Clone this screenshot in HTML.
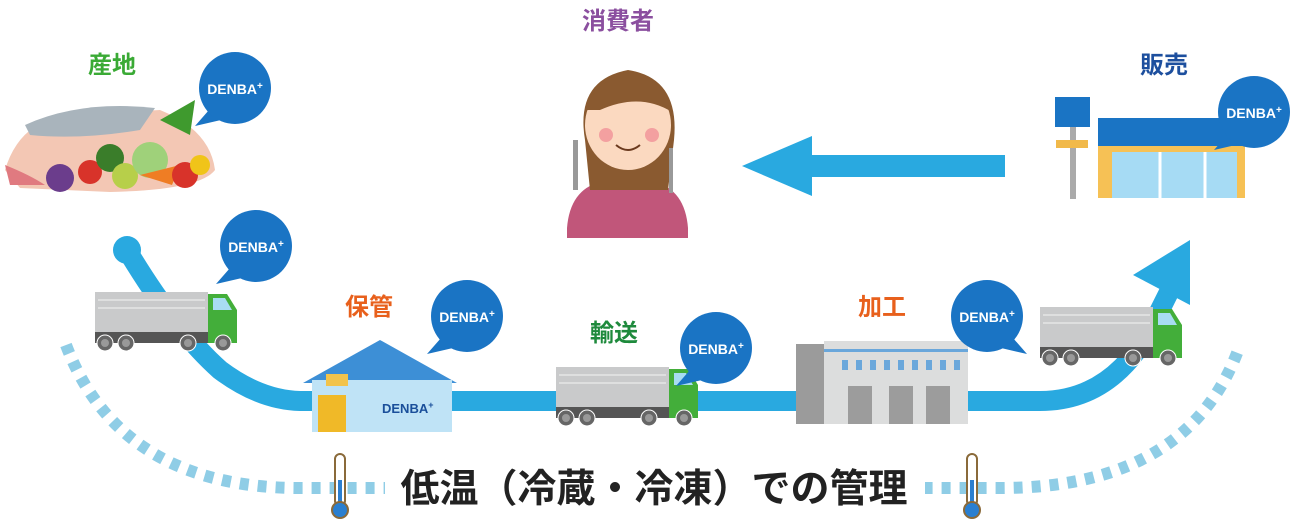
<!DOCTYPE html>
<html><head><meta charset="utf-8"><style>
html,body{margin:0;padding:0;background:#fff}
svg{display:block}
text{font-family:"Liberation Sans","Noto Sans CJK JP",sans-serif;font-weight:bold}
</style></head><body>
<svg width="1294" height="527" viewBox="0 0 1294 527" xmlns="http://www.w3.org/2000/svg">
<defs>
<g id="truck">
 <rect x="0" y="0" width="113" height="40" fill="#c9cacb"/>
 <line x1="3" y1="8" x2="110" y2="8" stroke="#e6e6e6" stroke-width="1.5"/>
 <line x1="3" y1="16" x2="110" y2="16" stroke="#e6e6e6" stroke-width="1.5"/>
 <rect x="0" y="40" width="130" height="11" fill="#555"/>
 <path d="M113 2 L132 2 L142 18 L142 51 L113 51 Z" fill="#43ae3a"/>
 <path d="M118 6 L130 6 L137 18 L118 18 Z" fill="#a8dcf2"/>
 <circle cx="10" cy="51" r="8" fill="#666" stroke="#fff" stroke-width="1"/>
 <circle cx="10" cy="51" r="4" fill="#999"/>
 <circle cx="31" cy="51" r="8" fill="#666" stroke="#fff" stroke-width="1"/>
 <circle cx="31" cy="51" r="4" fill="#999"/>
 <circle cx="93" cy="51" r="8" fill="#666" stroke="#fff" stroke-width="1"/>
 <circle cx="93" cy="51" r="4" fill="#999"/>
 <circle cx="128" cy="51" r="8" fill="#666" stroke="#fff" stroke-width="1"/>
 <circle cx="128" cy="51" r="4" fill="#999"/>
</g>
<g id="bub">
 <path d="M-26 22 L-40 38 L-14 32 Z" fill="#1a74c4"/>
 <circle cx="0" cy="0" r="36" fill="#1a74c4"/>
</g>
<g id="bubR">
 <path d="M26 22 L40 38 L14 32 Z" fill="#1a74c4"/>
 <circle cx="0" cy="0" r="36" fill="#1a74c4"/>
</g>
<g id="thermo">
 <rect x="-5" y="-36" width="10" height="52" rx="5" fill="#fff" stroke="#8a6a3a" stroke-width="2"/>
 <rect x="-2" y="-10" width="4" height="26" fill="#2a7fd0"/>
 <circle cx="0" cy="20" r="8" fill="#2a7fd0" stroke="#8a6a3a" stroke-width="2"/>
</g>
</defs>

<path d="M66 345 Q120 488 300 488 L1000 488 Q1190 488 1240 345" fill="none" stroke="#8fcde6" stroke-width="12" stroke-dasharray="9 9"/>

<path d="M127 250 Q175 330 220 370 Q260 400 300 401 L1040 401 Q1110 401 1150 330 L1170 290" fill="none" stroke="#29a9e0" stroke-width="20"/>
<circle cx="127" cy="250" r="14" fill="#29a9e0"/>
<path d="M1190 240 L1190 305 L1133 275 Z" fill="#29a9e0"/>

<rect x="800" y="155" width="205" height="22" fill="#29a9e0"/>
<path d="M742 166 L812 136 L812 196 Z" fill="#29a9e0"/>

<text x="88" y="73" font-size="24" fill="#3aaa35">産地</text>
<text x="582" y="29" font-size="24" fill="#8b4f9f">消費者</text>
<text x="1140" y="73" font-size="24" fill="#1d4f9e">販売</text>
<text x="345" y="315" font-size="24" fill="#e8601c">保管</text>
<text x="590" y="341" font-size="24" fill="#1e8a3c">輸送</text>
<text x="858" y="315" font-size="24" fill="#e8601c">加工</text>

<path d="M5 170 Q20 120 70 115 L160 110 Q210 130 215 170 Q200 190 110 192 L20 188 Z" fill="#f3c7b4"/>
<path d="M25 125 Q80 100 155 108 L140 130 Q80 140 30 135 Z" fill="#a9b4bc"/>
<circle cx="60" cy="178" r="14" fill="#6b3d8c"/>
<circle cx="90" cy="172" r="12" fill="#d8332a"/>
<circle cx="110" cy="158" r="14" fill="#3a7d2a"/>
<circle cx="125" cy="176" r="13" fill="#b7cf4a"/>
<circle cx="150" cy="160" r="18" fill="#9fd17a"/>
<path d="M140 175 L180 165 L172 185 Z" fill="#ef7d24"/>
<circle cx="185" cy="175" r="13" fill="#d8332a"/>
<circle cx="200" cy="165" r="10" fill="#f0c419"/>
<path d="M160 120 L195 100 L190 135 Z" fill="#3f9a2e"/>
<path d="M5 165 Q30 175 45 185 L10 185 Z" fill="#e07a80"/>

<path d="M567 228 Q570 190 600 182 L655 182 Q685 190 688 228 L688 238 L567 238 Z" fill="#c1567a"/>
<path d="M585 140 Q575 80 628 70 Q680 78 674 140 L668 190 L590 190 Z" fill="#8a5a30"/>
<ellipse cx="628" cy="125" rx="43" ry="45" fill="#fbd9c0"/>
<path d="M586 110 Q600 70 640 78 Q670 85 672 112 Q640 92 600 110 Z" fill="#8a5a30"/>
<circle cx="606" cy="135" r="7" fill="#f3a0a0"/>
<circle cx="652" cy="135" r="7" fill="#f3a0a0"/>
<path d="M616 145 Q628 155 640 145" fill="none" stroke="#6b3a1e" stroke-width="2"/>
<rect x="573" y="140" width="5" height="50" fill="#999"/>
<rect x="669" y="148" width="4" height="45" fill="#999"/>

<rect x="1055" y="97" width="35" height="30" fill="#1a74c4"/>
<rect x="1070" y="127" width="6" height="72" fill="#aaa"/>
<rect x="1056" y="140" width="32" height="8" fill="#f1b94a"/>
<rect x="1098" y="118" width="147" height="28" fill="#1a74c4"/>
<rect x="1098" y="146" width="147" height="52" fill="#f6c155"/>
<rect x="1112" y="152" width="125" height="46" fill="#a6dbf4"/>
<line x1="1160" y1="152" x2="1160" y2="198" stroke="#fff" stroke-width="3"/>
<line x1="1205" y1="152" x2="1205" y2="198" stroke="#fff" stroke-width="3"/>

<path d="M303 383 L380 340 L457 383 Z" fill="#3d8fd6"/>
<rect x="312" y="380" width="140" height="52" fill="#bfe3f6"/>
<rect x="318" y="395" width="28" height="37" fill="#f0b928"/>
<rect x="326" y="374" width="22" height="12" fill="#f2c34b"/>
<text x="382" y="413" font-size="13" fill="#1a4f9a">DENBA<tspan font-size="9" dy="-5">+</tspan></text>

<rect x="796" y="344" width="28" height="80" fill="#9b9b9b"/>
<rect x="824" y="341" width="144" height="83" fill="#dcdddd"/>
<rect x="824" y="349" width="144" height="3" fill="#6aa7db"/>
<g fill="#6aa7db">
<rect x="842" y="360" width="6" height="10"/><rect x="856" y="360" width="6" height="10"/><rect x="870" y="360" width="6" height="10"/><rect x="884" y="360" width="6" height="10"/><rect x="898" y="360" width="6" height="10"/><rect x="912" y="360" width="6" height="10"/><rect x="926" y="360" width="6" height="10"/><rect x="940" y="360" width="6" height="10"/><rect x="954" y="360" width="6" height="10"/>
</g>
<g fill="#9c9c9c">
<rect x="848" y="386" width="24" height="38"/><rect x="889" y="386" width="24" height="38"/><rect x="926" y="386" width="24" height="38"/>
</g>

<use href="#truck" x="95" y="292"/>
<use href="#truck" x="556" y="367"/>
<use href="#truck" x="1040" y="307"/>

<use href="#bub" x="235" y="88"/>
<text x="235" y="94" font-size="14" fill="#fff" text-anchor="middle">DENBA<tspan font-size="10" dy="-5">+</tspan></text>
<use href="#bub" x="256" y="246"/>
<text x="256" y="252" font-size="14" fill="#fff" text-anchor="middle">DENBA<tspan font-size="10" dy="-5">+</tspan></text>
<use href="#bub" x="467" y="316"/>
<text x="467" y="322" font-size="14" fill="#fff" text-anchor="middle">DENBA<tspan font-size="10" dy="-5">+</tspan></text>
<use href="#bub" x="716" y="348"/>
<text x="716" y="354" font-size="14" fill="#fff" text-anchor="middle">DENBA<tspan font-size="10" dy="-5">+</tspan></text>
<use href="#bubR" x="987" y="316"/>
<text x="987" y="322" font-size="14" fill="#fff" text-anchor="middle">DENBA<tspan font-size="10" dy="-5">+</tspan></text>
<use href="#bub" x="1254" y="112"/>
<text x="1254" y="118" font-size="14" fill="#fff" text-anchor="middle">DENBA<tspan font-size="10" dy="-5">+</tspan></text>

<rect x="385" y="462" width="540" height="50" fill="#fff"/>
<text x="654" y="502" font-size="39" fill="#222" text-anchor="middle">低温（冷蔵・冷凍）での管理</text>
<use href="#thermo" x="340" y="490"/>
<use href="#thermo" x="972" y="490"/>
</svg>
</body></html>
